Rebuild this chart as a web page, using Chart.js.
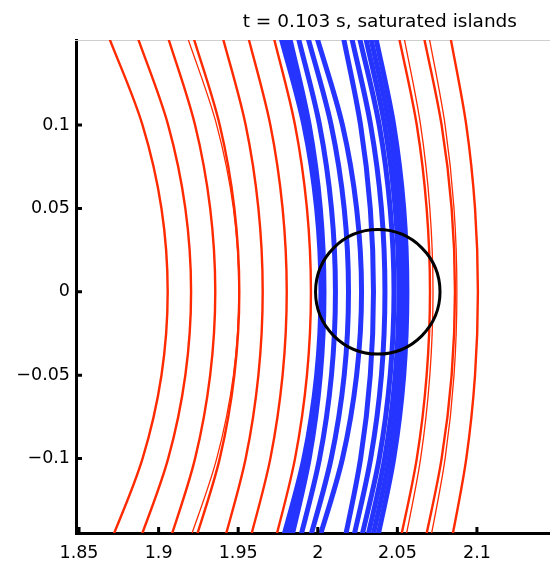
<!DOCTYPE html>
<html>
<head>
<meta charset="utf-8">
<script src="https://cdn.jsdelivr.net/npm/chart.js@4/dist/chart.umd.min.js"></script>
<style>
  html, body { margin: 0; padding: 0; background: #ffffff; }
  #wrap { width: 550px; height: 561px; }
</style>
</head>
<body>
<div id="wrap"><canvas id="c" width="550" height="561"></canvas></div>
<script>
// ---- data ----
const TITLE = 't = 0.103 s, saturated islands';
const X_TICKS = [1.85, 1.9, 1.95, 2, 2.05, 2.1];
const Y_TICKS = [0.1, 0.05, 0, -0.05, -0.1];
const X_RANGE = [1.8481, 2.1459];
const Y_RANGE = [-0.1446, 0.1510];

// heights (y) at which each field line's x position was read
const Y_LEVELS = [0.155, 0.1, 0.05, 0, -0.05, -0.1, -0.155];

// red field lines (x at each Y_LEVELS entry)
const RED_LINES = [
  [1.8678, 1.8899, 1.9018, 1.9057, 1.9018, 1.8899, 1.8678],
  [1.8859, 1.9060, 1.9168, 1.9204, 1.9168, 1.9060, 1.8859],
  [1.9051, 1.9229, 1.9324, 1.9356, 1.9324, 1.9229, 1.9051],
  [1.9211, 1.9384, 1.9476, 1.9507, 1.9476, 1.9384, 1.9211],
  [1.9396, 1.9547, 1.9627, 1.9654, 1.9627, 1.9547, 1.9396],
  [1.9557, 1.9702, 1.9779, 1.9805, 1.9779, 1.9702, 1.9557],
  [1.9717, 1.9857, 1.9932, 1.9957, 1.9932, 1.9857, 1.9717],
  [2.0505, 2.0622, 2.0684, 2.0705, 2.0684, 2.0622, 2.0505],
  [2.0662, 2.0778, 2.0841, 2.0862, 2.0841, 2.0778, 2.0662],
  [2.0829, 2.0933, 2.0988, 2.1006, 2.0988, 2.0933, 2.0829]
];

// thin secondary red strands that split off some of the red lines
const RED_STRANDS = [
  [1.9173, 1.9365, 1.9470, 1.9504, 1.9470, 1.9365, 1.9173],
  [2.0537, 2.0646, 2.0704, 2.0724, 2.0704, 2.0646, 2.0537],
  [2.0695, 2.0800, 2.0856, 2.0874, 2.0856, 2.0800, 2.0695]
];

// blue (island) field lines
const BLUE_LINES = [
  [1.9762, 1.9913, 1.9993, 2.0020, 1.9993, 1.9913, 1.9762],
  [1.9789, 1.9930, 2.0004, 2.0030, 2.0004, 1.9930, 1.9789],
  [1.9817, 1.9946, 2.0016, 2.0039, 2.0016, 1.9946, 1.9817],
  [1.9871, 2.0011, 2.0086, 2.0111, 2.0086, 2.0011, 1.9871],
  [1.9931, 2.0084, 2.0166, 2.0193, 2.0166, 2.0084, 1.9931],
  [1.9987, 2.0155, 2.0244, 2.0275, 2.0244, 2.0155, 1.9987],
  [2.0156, 2.0269, 2.0330, 2.0350, 2.0330, 2.0269, 2.0156],
  [2.0207, 2.0332, 2.0400, 2.0422, 2.0400, 2.0332, 2.0207],
  [2.0256, 2.0386, 2.0455, 2.0479, 2.0455, 2.0386, 2.0256],
  [2.0295, 2.0420, 2.0487, 2.0510, 2.0487, 2.0420, 2.0295],
  [2.0327, 2.0449, 2.0513, 2.0535, 2.0513, 2.0449, 2.0327],
  [2.0359, 2.0477, 2.0540, 2.0560, 2.0540, 2.0477, 2.0359]
];

// black circle: centre and radius (x units)
const CIRCLE_CENTER = [2.0377, 0];
const CIRCLE_RADIUS = 0.0391;

// ---- styling ----
const RED = 'rgb(255,42,0)';
const BLUE = 'rgb(38,52,255)';
const FONT = 'DejaVu Sans';

function lineDataset(xs, color, width, order) {
  return {
    data: xs.map((x, i) => ({ x: x, y: Y_LEVELS[i] })),
    indexAxis: 'y',
    showLine: true,
    borderColor: color,
    borderWidth: width,
    pointRadius: 0,
    pointHoverRadius: 0,
    cubicInterpolationMode: 'monotone',
    fill: false,
    order: order
  };
}

function circleRadiusPx(ctx) {
  const s = ctx.chart.scales.x;
  return Math.abs(s.getPixelForValue(CIRCLE_CENTER[0] + CIRCLE_RADIUS) - s.getPixelForValue(CIRCLE_CENTER[0]));
}

const datasets = [];
datasets.push({
  data: [{ x: CIRCLE_CENTER[0], y: CIRCLE_CENTER[1] }],
  showLine: false,
  pointStyle: 'circle',
  pointRadius: circleRadiusPx,
  pointHoverRadius: circleRadiusPx,
  pointBackgroundColor: 'rgba(0,0,0,0)',
  pointBorderColor: '#000',
  pointBorderWidth: 3,
  order: 0
});
RED_LINES.forEach(xs => datasets.push(lineDataset(xs, RED, 2.4, 1)));
RED_STRANDS.forEach(xs => datasets.push(lineDataset(xs, RED, 1.3, 1)));
BLUE_LINES.forEach(xs => datasets.push(lineDataset(xs, BLUE, 5, 2)));

function fmt(v) {
  return String(v).replace('-', '\u2212');
}

const decor = {
  id: 'decor',
  beforeDatasetsDraw(chart) {
    const { ctx, chartArea } = chart;
    ctx.save();
    ctx.strokeStyle = '#cfcfcf';
    ctx.lineWidth = 1;
    ctx.beginPath();
    ctx.moveTo(chartArea.left - 1, chartArea.top + 0.5);
    ctx.lineTo(chartArea.right, chartArea.top + 0.5);
    ctx.stroke();
    ctx.restore();
  },
  afterDraw(chart) {
    const { ctx, chartArea, scales } = chart;
    ctx.save();
    ctx.strokeStyle = '#000';
    ctx.lineWidth = 3;
    ctx.beginPath();
    X_TICKS.forEach(v => {
      const px = scales.x.getPixelForValue(v);
      ctx.moveTo(px, chartArea.bottom);
      ctx.lineTo(px, chartArea.bottom - 6);
    });
    Y_TICKS.forEach(v => {
      const py = scales.y.getPixelForValue(v);
      ctx.moveTo(chartArea.left, py);
      ctx.lineTo(chartArea.left + 6, py);
    });
    ctx.stroke();
    ctx.fillStyle = '#000';
    ctx.font = '18.5px "' + FONT + '"';
    ctx.textAlign = 'right';
    ctx.textBaseline = 'alphabetic';
    ctx.fillText(TITLE, 517, 27);
    ctx.restore();
  }
};

new Chart(document.getElementById('c'), {
  type: 'scatter',
  data: { datasets: datasets },
  plugins: [decor],
  options: {
    responsive: false,
    animation: false,
    events: [],
    layout: { padding: { top: 40, left: 0, right: 0, bottom: 0 } },
    plugins: { legend: { display: false }, tooltip: { enabled: false }, title: { display: false } },
    scales: {
      x: {
        type: 'linear',
        min: X_RANGE[0],
        max: X_RANGE[1],
        afterBuildTicks: (s) => { s.ticks = X_TICKS.map(v => ({ value: v })); },
        afterFit: (s) => { s.height = 28; },
        grid: { display: false, drawTicks: false },
        border: { display: true, color: '#000', width: 3 },
        ticks: {
          color: '#000',
          padding: 10,
          maxRotation: 0,
          autoSkip: false,
          font: { family: FONT, size: 17.5 },
          callback: (v) => fmt(v)
        }
      },
      y: {
        type: 'linear',
        min: Y_RANGE[0],
        max: Y_RANGE[1],
        afterBuildTicks: (s) => { s.ticks = Y_TICKS.map(v => ({ value: v })); },
        afterFit: (s) => { s.width = 76; },
        grid: { display: false, drawTicks: false },
        border: { display: true, color: '#000', width: 3 },
        ticks: {
          color: '#000',
          padding: 6,
          autoSkip: false,
          font: { family: FONT, size: 17.5 },
          callback: (v) => fmt(v)
        }
      }
    }
  }
});
</script>
</body>
</html>
